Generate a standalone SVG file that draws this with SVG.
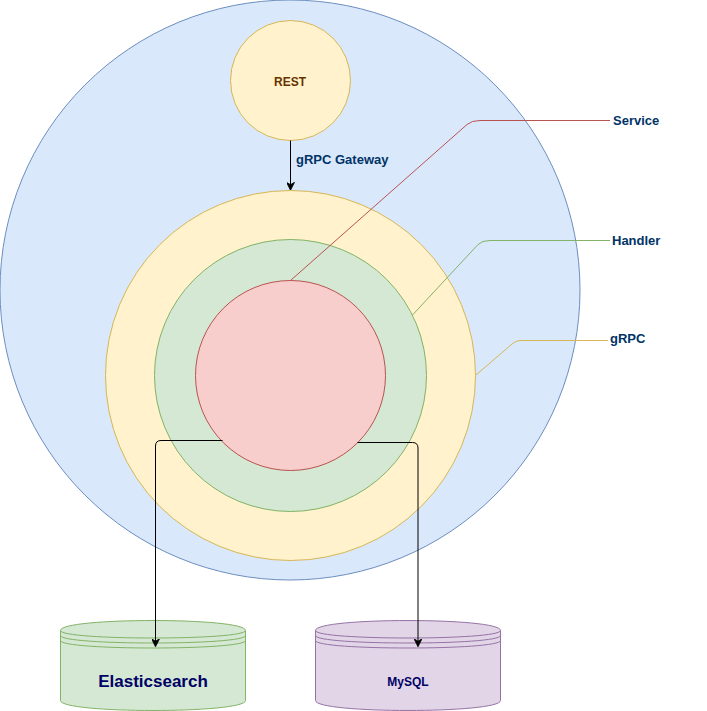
<svg xmlns="http://www.w3.org/2000/svg" width="707" height="711" viewBox="0 0 707 711">
<style>
text{font-family:"Liberation Sans",Arial,sans-serif;font-weight:bold}
.lbl{font-size:13px;fill:#003366}
.db{fill:#000066}
.conn{fill:none;stroke:#000;stroke-width:1}
.lead{fill:none;stroke-width:1}
</style>
<defs>
<marker id="arr" viewBox="0 0 10 10" refX="9" refY="5" markerWidth="8" markerHeight="8" markerUnits="userSpaceOnUse" orient="auto">
<path d="M0 0 L10 5 L0 10 L3 5 Z" fill="#000" stroke="#000" stroke-width="1"/>
</marker>
</defs>
<rect width="707" height="711" fill="#fff"/>
<g id="outer"><circle cx="290" cy="290" r="290" fill="#dae8fc" stroke="#6c8ebf"/></g>
<g id="rest"><circle cx="290.5" cy="80.5" r="60" fill="#fff2cc" stroke="#d6b656"/><text x="290" y="85.5" font-size="12" fill="#663300" text-anchor="middle">REST</text></g>
<g id="grpc"><circle cx="290.5" cy="375.5" r="185" fill="#fff2cc" stroke="#d6b656"/></g>
<g id="handler"><circle cx="290.5" cy="375.5" r="136" fill="#d5e8d4" stroke="#82b366"/></g>
<g id="service"><circle cx="290.5" cy="375.5" r="95" fill="#f8cecc" stroke="#b85450"/></g>
<g id="elasticsearch">
<path d="M60.5 630.5 C60.5 617.2 245.5 617.2 245.5 630.5 L245.5 700.5 C245.5 713.8 60.5 713.8 60.5 700.5 Z" fill="#d5e8d4" stroke="#82b366"/>
<path d="M60.5 630.5 C60.5 640.5 245.5 640.5 245.5 630.5 M60.5 635.5 C60.5 645.5 245.5 645.5 245.5 635.5 M60.5 640.5 C60.5 650.5 245.5 650.5 245.5 640.5" fill="none" stroke="#82b366"/>
<text x="153" y="687" font-size="17" class="db" text-anchor="middle">Elasticsearch</text>
</g>
<g id="mysql">
<path d="M315.5 630.5 C315.5 617.2 500.5 617.2 500.5 630.5 L500.5 700.5 C500.5 713.8 315.5 713.8 315.5 700.5 Z" fill="#e1d5e7" stroke="#9673a6"/>
<path d="M315.5 630.5 C315.5 640.5 500.5 640.5 500.5 630.5 M315.5 635.5 C315.5 645.5 500.5 645.5 500.5 635.5 M315.5 640.5 C315.5 650.5 500.5 650.5 500.5 640.5" fill="none" stroke="#9673a6"/>
<text x="408" y="686" font-size="12" class="db" text-anchor="middle">MySQL</text>
</g>
<g id="connectors">
<path class="conn" d="M290.5 140.5 L290.5 189.5" marker-end="url(#arr)"/>
<path class="conn" d="M222.5 440.5 L161 440.5 Q155.5 440.5 155.5 446 L155.5 646" marker-end="url(#arr)"/>
<path class="conn" d="M357.5 442.5 L412.5 442.5 Q418 442.5 418 448 L418 646" marker-end="url(#arr)"/>
<path class="lead" stroke="#b85450" d="M290.5 280.5 L467 124.5 Q471.5 120.5 480 120.5 L610 120.5"/>
<path class="lead" stroke="#82b366" d="M412.5 315 L478 244.5 Q482 240.5 490 240.5 L610 240.5"/>
<path class="lead" stroke="#d6b656" d="M476 375 L512 344 Q516 340.5 520 340.5 L608 340.5"/>
</g>
<g id="labels">
<text class="lbl" x="296" y="164">gRPC Gateway</text>
<text class="lbl" x="613" y="125">Service</text>
<text class="lbl" x="612" y="244.5">Handler</text>
<text class="lbl" x="610" y="342.5">gRPC</text>
</g>
</svg>
